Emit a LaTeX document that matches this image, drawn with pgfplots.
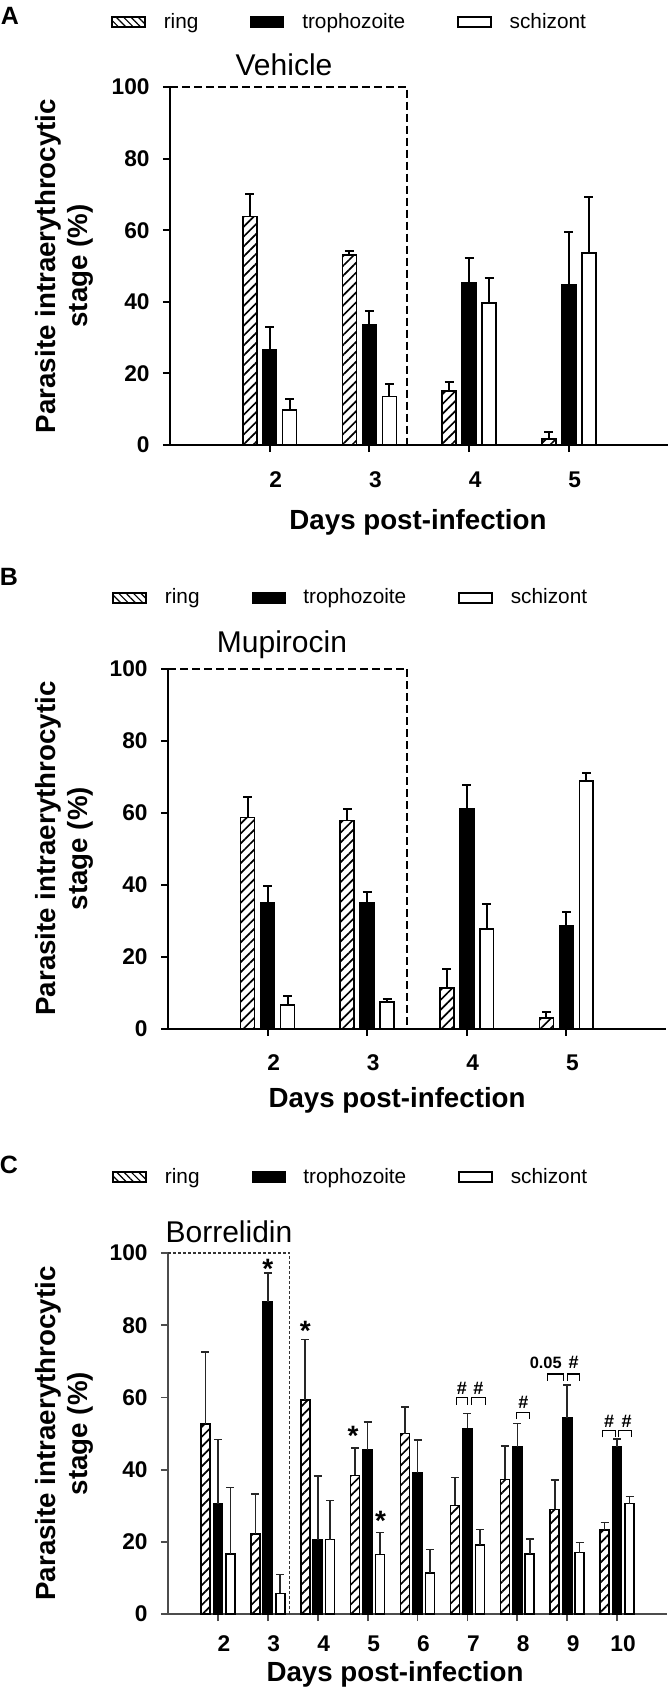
\documentclass[border=0pt]{standalone}
\usepackage{fontspec}
\setmainfont{Liberation Sans}
\usepackage{pgfplots}
\pgfplotsset{compat=1.18}
\usetikzlibrary{patterns.meta}

\pgfplotsset{
  mylegend/.style={legend image code/.code={\draw[##1] (0pt,-2.6pt) rectangle (16.5pt,2.6pt);}},
  panel/.style={
    scale only axis,
    axis x line*=bottom, axis y line*=left,
    ymin=0, ymax=100, ytick={0,20,...,100},
    tick align=outside,
    major tick length=3.5pt,
    axis line style={line width=1pt},
    every tick/.style={line width=1pt, black},
    /pgf/number format/assume math mode=true,
    ticklabel style={font=\bfseries\fontsize{11.35}{13}\selectfont, inner sep=0pt},
    yticklabel style={xshift=-6.5pt},
    xlabel={Days post-infection},
    ylabel={Parasite intraerythrocytic\\stage (\%)},
    label style={font=\bfseries\fontsize{13.85}{16}\selectfont},
    ylabel style={align=center, anchor=center},
    xlabel style={anchor=center},
    clip=false,
    legend columns=3,
    legend cell align=left,
    legend style={draw=none, fill=none, inner sep=0pt, anchor=west,
      font=\fontsize{10.4}{12}\selectfont, nodes={inner sep=0pt},
      /tikz/every odd column/.append style={column sep=9pt},
      /tikz/every even column/.append style={column sep=26pt}},
    error bars/y dir=plus, error bars/y explicit,
    error bars/error bar style={line width=1pt, black},
    error bars/error mark options={rotate=90, line width=1pt, mark size=2.25pt, black},
  },
  ringbar/.style={ybar, bar shift=0pt, forget plot, draw=black, line width=0.8pt, pattern={Lines[angle=45,distance=3.5pt,line width=0.85pt]}},
  trophbar/.style={ybar, bar shift=0pt, forget plot, draw=black, fill=black, line width=0.8pt},
  schizbar/.style={ybar, bar shift=0pt, forget plot, draw=black, fill=white, line width=0.8pt},
}

\begin{document}
\begin{tikzpicture}
\useasboundingbox (0,0) rectangle (335pt,-844pt);

% ---------------- Panel A (bars at day-0.2, day, day+0.2) ----------------
\begin{axis}[panel, at={(85pt,-222.5pt)}, anchor=south west,
  width=249.25pt, height=179pt, xmin=1, xmax=6, xtick={2,3,4,5},
  xticklabel style={yshift=-9.5pt, xshift=3pt},
  ylabel style={at={(axis description cs:-0.2126,0.5)}},
  xlabel style={at={(axis description cs:0.4975,-0.215)}},
  legend style={at={(axis description cs:-0.118,1.1816)}}]
\addlegendimage{mylegend, draw=black, line width=0.75pt, pattern={Lines[angle=-45,distance=2.6pt,line width=0.6pt]}}
\addlegendentry{ring}
\addlegendimage{mylegend, draw=black, fill=black}
\addlegendentry{trophozoite}
\addlegendimage{mylegend, draw=black, line width=0.75pt, fill=white}
\addlegendentry{schizont}
\addplot[ringbar, bar width=6.98pt] coordinates {(1.8,63.8) +- (0,6.4) (2.8,53.0) +- (0,1.3) (3.8,15.1) +- (0,2.5) (4.8,1.7) +- (0,2.0)};
\addplot[trophbar, bar width=6.98pt] coordinates {(2,26.5) +- (0,6.5) (3,33.7) +- (0,3.7) (4,45.4) +- (0,6.7) (5,44.8) +- (0,14.8)};
\addplot[schizbar, bar width=6.98pt] coordinates {(2.2,9.8) +- (0,3.0) (3.2,13.6) +- (0,3.4) (4.2,39.6) +- (0,7.0) (5.2,53.6) +- (0,15.6)};
\draw[line width=1pt, dash pattern=on 4pt off 2pt] (axis cs:1,100) -- (axis cs:3.38,100) -- (axis cs:3.38,0);
\end{axis}

% ---------------- Panel B ----------------
\begin{axis}[panel, at={(84pt,-514.25pt)}, anchor=south west,
  width=249pt, height=180pt, xmin=1, xmax=6, xtick={2,3,4,5},
  xticklabel style={yshift=-9.5pt, xshift=3pt},
  ylabel style={at={(axis description cs:-0.2088,0.5)}},
  xlabel style={at={(axis description cs:0.46,-0.1986)}},
  legend style={at={(axis description cs:-0.1124,1.196)}}]
\addlegendimage{mylegend, draw=black, line width=0.75pt, pattern={Lines[angle=-45,distance=2.6pt,line width=0.6pt]}}
\addlegendentry{ring}
\addlegendimage{mylegend, draw=black, fill=black}
\addlegendentry{trophozoite}
\addlegendimage{mylegend, draw=black, line width=0.75pt, fill=white}
\addlegendentry{schizont}
\addplot[ringbar, bar width=6.98pt] coordinates {(1.8,58.6) +- (0,5.7) (2.8,57.8) +- (0,3.3) (3.8,11.3) +- (0,5.2) (4.8,3.0) +- (0,1.5)};
\addplot[trophbar, bar width=6.98pt] coordinates {(2,34.9) +- (0,4.8) (3,34.9) +- (0,3.0) (4,61.1) +- (0,6.5) (5,28.5) +- (0,3.9)};
\addplot[schizbar, bar width=6.98pt] coordinates {(2.2,6.6) +- (0,2.5) (3.2,7.3) +- (0,1.0) (4.2,27.7) +- (0,7.0) (5.2,68.8) +- (0,2.3)};
\draw[line width=1pt, dash pattern=on 4pt off 2pt] (axis cs:1,100) -- (axis cs:3.4,100) -- (axis cs:3.4,0);
\end{axis}

% ---------------- Panel C (bars at day-0.25, day, day+0.25) ----------------
\begin{axis}[panel, at={(84pt,-807pt)}, anchor=south west,
  width=249.5pt, height=180.5pt, xmin=1, xmax=11, xtick={2,3,...,10},
  axis line style={line width=0.9pt, black!70},
  every tick/.style={line width=0.9pt, black!70},
  xticklabel style={yshift=-7pt, xshift=3pt},
  error bars/error bar style={line width=0.8pt, black!85},
  error bars/error mark options={rotate=90, line width=0.8pt, mark size=2pt, black!85},
  ylabel style={at={(axis description cs:-0.2084,0.5)}},
  xlabel style={at={(axis description cs:0.455,-0.168)}},
  legend style={at={(axis description cs:-0.1122,1.2105)}}]
\addlegendimage{mylegend, draw=black, line width=0.75pt, pattern={Lines[angle=-45,distance=2.6pt,line width=0.6pt]}}
\addlegendentry{ring}
\addlegendimage{mylegend, draw=black, fill=black}
\addlegendentry{trophozoite}
\addlegendimage{mylegend, draw=black, line width=0.75pt, fill=white}
\addlegendentry{schizont}
\addplot[ringbar, bar width=4.5pt] coordinates {(1.75,52.7) +- (0,19.8) (2.75,22.2) +- (0,11.1) (3.75,59.3) +- (0,16.7) (4.75,38.4) +- (0,7.6) (5.75,50.0) +- (0,7.4) (6.75,30.1) +- (0,7.7) (7.75,37.3) +- (0,9.2) (8.75,29.0) +- (0,8.1) (9.75,23.2) +- (0,2.1)};
\addplot[trophbar, bar width=4.5pt] coordinates {(2,30.6) +- (0,17.7) (3,86.5) +- (0,8.0) (4,20.6) +- (0,17.6) (5,45.5) +- (0,7.7) (6,39.0) +- (0,9.2) (7,51.4) +- (0,4.1) (8,46.2) +- (0,6.6) (9,54.3) +- (0,9.2) (10,46.2) +- (0,2.3)};
\addplot[schizbar, bar width=4.5pt] coordinates {(2.25,16.7) +- (0,18.3) (3.25,5.7) +- (0,5.3) (4.25,20.6) +- (0,10.8) (5.25,16.5) +- (0,6.1) (6.25,11.3) +- (0,6.6) (7.25,19.1) +- (0,4.3) (8.25,16.7) +- (0,4.1) (9.25,17.0) +- (0,2.8) (10.25,30.6) +- (0,2.0)};
\draw[line width=0.7pt, black!80, dash pattern=on 1.5pt off 1pt] (axis cs:1,100) -- (axis cs:3.44,100) -- (axis cs:3.44,0);
% significance marks
\begin{scope}[every node/.style={font=\bfseries\fontsize{14}{14}\selectfont, inner sep=0pt, yshift=-3pt}]
\node at (axis cs:3,97.2) {*};
\node at (axis cs:3.75,80.1) {*};
\node at (axis cs:4.71,51.1) {*};
\node at (axis cs:5.26,27.6) {*};
\end{scope}
\begin{scope}[every node/.style={font=\bfseries\fontsize{9}{9}\selectfont, inner sep=0pt}]
\node at (axis cs:6.89,62.5) {\#};
\node at (axis cs:7.22,62.5) {\#};
\node at (axis cs:8.12,58.7) {\#};
\node at (axis cs:9.13,69.7) {\#};
\node at (axis cs:9.84,53.4) {\#};
\node at (axis cs:10.19,53.4) {\#};
\node[font=\bfseries\fontsize{8.2}{9}\selectfont] at (axis cs:8.57,69.7) {0.05};
\end{scope}
\begin{scope}[line width=0.6pt]
\draw (axis cs:6.78,58.0) -- (axis cs:6.78,59.9) -- (axis cs:7.0,59.9) -- (axis cs:7.0,58.0);
\draw (axis cs:7.09,58.0) -- (axis cs:7.09,59.9) -- (axis cs:7.36,59.9) -- (axis cs:7.36,58.0);
\draw (axis cs:7.99,54.0) -- (axis cs:7.99,55.9) -- (axis cs:8.25,55.9) -- (axis cs:8.25,54.0);
\draw (axis cs:8.61,64.6) -- (axis cs:8.61,66.5) -- (axis cs:8.93,66.5) -- (axis cs:8.93,64.6);
\draw (axis cs:9.01,64.6) -- (axis cs:9.01,66.5) -- (axis cs:9.24,66.5) -- (axis cs:9.24,64.6);
\draw (axis cs:9.71,48.9) -- (axis cs:9.71,50.8) -- (axis cs:9.96,50.8) -- (axis cs:9.96,48.9);
\draw (axis cs:10.02,48.9) -- (axis cs:10.02,50.8) -- (axis cs:10.29,50.8) -- (axis cs:10.29,48.9);
\end{scope}
\end{axis}

% titles and panel letters
\node[font=\fontsize{15}{15}\selectfont] at (142pt,-32.5pt) {Vehicle};
\node[font=\fontsize{15}{15}\selectfont] at (141pt,-322.5pt) {Mupirocin};
\node[font=\fontsize{15}{15}\selectfont] at (114.5pt,-616pt) {Borrelidin};
\node[font=\bfseries\fontsize{12.5}{12.5}\selectfont] at (5pt,-8pt) {A};
\node[font=\bfseries\fontsize{12.5}{12.5}\selectfont] at (4.5pt,-288.5pt) {B};
\node[font=\bfseries\fontsize{12.5}{12.5}\selectfont] at (4.5pt,-582.5pt) {C};
\end{tikzpicture}
\end{document}
